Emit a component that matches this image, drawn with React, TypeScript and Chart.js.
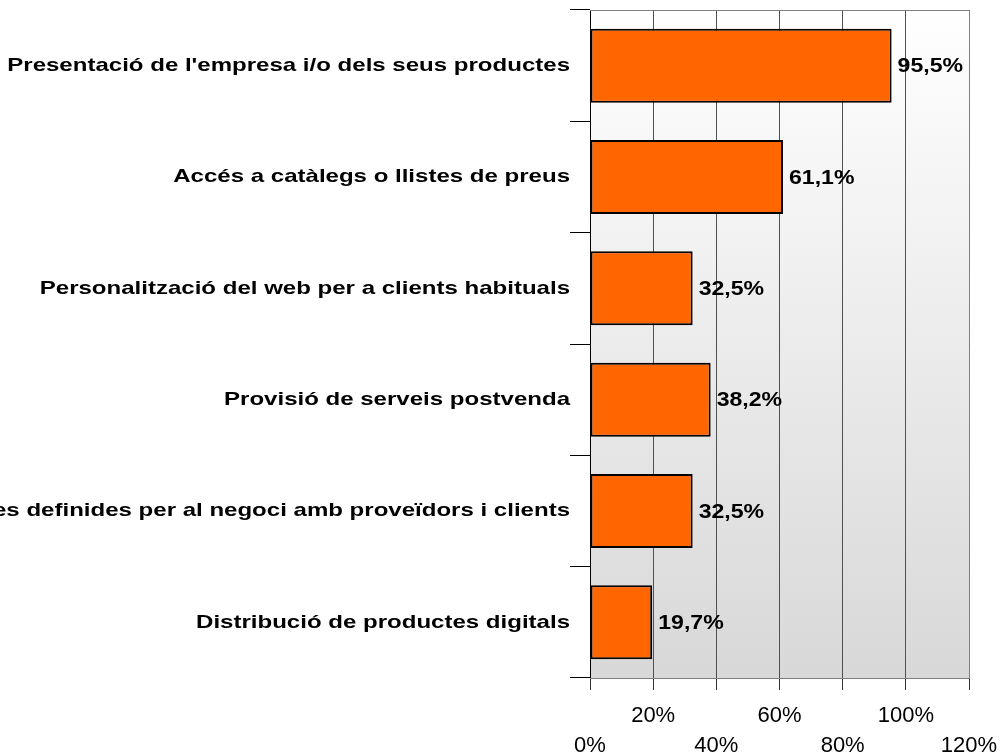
import React, { useEffect, useRef } from "react";
import { Chart, registerables } from "chart.js";

Chart.register(...registerables);

const categories: string[] = [
  "Presentació de l'empresa i/o dels seus productes",
  "Accés a catàlegs o llistes de preus",
  "Personalització del web per a clients habituals",
  "Provisió de serveis postvenda",
  "Accés a zones definides per al negoci amb proveïdors i clients",
  "Distribució de productes digitals",
];
const values: number[] = [95.5, 61.1, 32.5, 38.2, 32.5, 19.7];
const xTicks: number[] = [0, 20, 40, 60, 80, 100, 120];

const FONT = "'Liberation Sans', Arial, Helvetica, sans-serif";
const LABEL_STRETCH = 1.265;

const fmt = (v: number) => v.toFixed(1).replace(".", ",") + "%";

const bgPlugin = {
  id: "bgPlugin",
  beforeDraw(chart: any) {
    const { ctx, chartArea: a } = chart;
    ctx.save();
    const g = ctx.createLinearGradient(0, a.top, 0, a.bottom);
    g.addColorStop(0, "#ffffff");
    g.addColorStop(1, "#d8d8d8");
    ctx.fillStyle = g;
    ctx.fillRect(a.left, a.top, a.right - a.left, a.bottom - a.top);
    ctx.restore();

    const ys: any = chart.scales.y;
    if (ys && !ys.__patched) {
      const orig = ys.drawLabels;
      ys.drawLabels = function (area: any) {
        const c = this.ctx;
        const ax = this.right - 20;
        c.save();
        c.translate(ax, 0);
        c.scale(LABEL_STRETCH, 1);
        c.translate(-ax, 0);
        orig.call(this, area);
        c.restore();
      };
      ys.__patched = true;
    }
  },
  beforeDatasetsDraw(chart: any) {
    const { ctx, chartArea: a } = chart;
    ctx.save();
    ctx.strokeStyle = "#808080";
    ctx.lineWidth = 1;
    ctx.beginPath();
    ctx.moveTo(a.left, a.top + 0.5);
    ctx.lineTo(a.right + 0.5, a.top + 0.5);
    ctx.lineTo(a.right + 0.5, a.bottom + 0.5);
    ctx.lineTo(a.left, a.bottom + 0.5);
    ctx.stroke();
    ctx.restore();
  },
  afterDatasetsDraw(chart: any) {
    const { ctx } = chart;
    const meta = chart.getDatasetMeta(0);
    ctx.save();
    ctx.font = `bold 21px ${FONT}`;
    ctx.fillStyle = "#000000";
    ctx.textAlign = "left";
    ctx.textBaseline = "middle";
    meta.data.forEach((el: any, i: number) => {
      const x0 = el.x + 6;
      ctx.save();
      ctx.translate(x0, 0);
      ctx.scale(1.1, 1);
      ctx.fillText(fmt(values[i]), 0, el.y + 1);
      ctx.restore();
    });
    ctx.restore();
  },
};

export default function App() {
  const ref = useRef<HTMLCanvasElement | null>(null);

  useEffect(() => {
    if (!ref.current) return;
    const chart = new Chart(ref.current, {
      type: "bar",
      data: {
        labels: categories,
        datasets: [
          {
            data: values,
            backgroundColor: "#FF6600",
            borderColor: "#000000",
            borderWidth: 2,
            borderSkipped: false,
            barPercentage: 0.665,
            categoryPercentage: 1,
          },
        ],
      },
      options: {
        indexAxis: "y",
        animation: false,
        responsive: true,
        maintainAspectRatio: false,
        layout: { padding: { top: 10, right: 32, left: 0, bottom: 0 } },
        plugins: {
          legend: { display: false },
          tooltip: { enabled: false },
        },
        scales: {
          x: {
            type: "linear",
            min: 0,
            max: 120,
            afterBuildTicks: (s: any) => {
              s.ticks = xTicks.map((v) => ({ value: v }));
            },
            afterFit: (s: any) => {
              s.height = 77;
              s.paddingLeft = 0;
              s.paddingRight = 0;
            },
            grid: {
              color: "#505050",
              tickColor: "#303030",
              tickLength: 12,
              lineWidth: 1,
            },
            border: { display: true, color: "#808080" },
            ticks: {
              autoSkip: false,
              maxRotation: 0,
              minRotation: 0,
              padding: 11,
              color: "#000000",
              font: { family: FONT, size: 22, lineHeight: 1.35 },
              callback: (v: any, i: number) => {
                const t = `${v}%`;
                return i % 2 === 0 ? ["", t] : [t, ""];
              },
            },
          },
          y: {
            type: "category",
            afterFit: (s: any) => {
              s.width = 590;
              s.paddingTop = 0;
              s.paddingBottom = 0;
            },
            grid: {
              offset: true,
              drawOnChartArea: false,
              tickLength: 20,
              tickColor: "#000000",
              color: "#000000",
            },
            border: { display: true, color: "#000000", width: 1 },
            ticks: {
              padding: 0,
              color: "#000000",
              autoSkip: false,
              font: { family: FONT, size: 19, weight: "bold" },
            },
          },
        },
      },
      plugins: [bgPlugin],
    } as any);
    return () => chart.destroy();
  }, []);

  return (
    <div
      style={{
        position: "fixed",
        left: 0,
        top: 0,
        width: 1001,
        height: 755,
        background: "#ffffff",
      }}
    >
      <canvas ref={ref} />
    </div>
  );
}
